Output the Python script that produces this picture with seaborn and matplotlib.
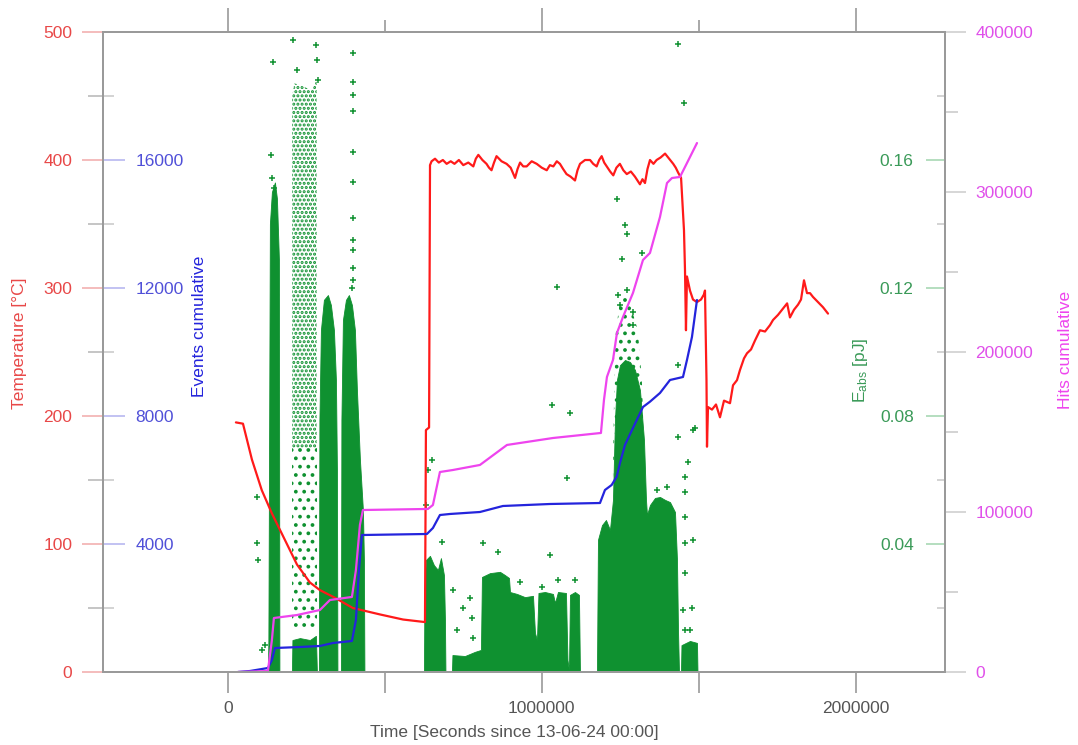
import matplotlib
matplotlib.use("Agg")
import matplotlib.pyplot as plt
import seaborn as sns
from matplotlib.ticker import MultipleLocator, FixedLocator, NullFormatter

# ---------------- data ----------------
# temperature trace [s, degC]
temp_t = [25500, 48000, 76500, 108000, 140000, 182000, 220000, 261000, 293000, 341000,
          398000, 484000, 558000, 628000, 631000, 641000, 644000,
          649000, 660000, 672000, 685000, 697000, 710000, 722000, 736000, 750000, 766000,
          782000, 790000, 798000, 811000, 824000, 832000, 840000, 848000, 856000, 872000,
          888000, 901000, 915000, 923000, 931000, 941000, 952000, 968000, 984000, 1000000,
          1016000, 1026000, 1037000, 1048000, 1058000, 1068000, 1079000, 1092000, 1106000,
          1114000, 1122000, 1138000, 1154000, 1164000, 1175000, 1183000, 1191000, 1199000,
          1207000, 1218000, 1228000, 1238000, 1249000, 1260000, 1271000, 1284000, 1297000,
          1305000, 1313000, 1321000, 1329000, 1337000, 1345000, 1356000, 1366000, 1379000,
          1393000, 1406000, 1419000, 1427000, 1435000, 1444000,
          1453300, 1456500, 1459600, 1462800, 1472400, 1482000, 1494700, 1507500, 1517000,
          1520200, 1525000, 1526600, 1529800, 1542500, 1555300, 1568000, 1580800, 1599900,
          1609500, 1622200, 1631800, 1644500, 1654100, 1666900, 1679600, 1695500, 1711500,
          1727400, 1737000, 1752900, 1768800, 1781900, 1791000, 1803800, 1816700, 1826200,
          1835700, 1845300, 1854800, 1864400, 1880300, 1896200, 1912200]
temp_c = [195, 194, 166, 142, 124, 103, 84, 70, 64, 58,
          50, 45, 41, 39, 189, 191, 396,
          399, 401, 398, 400, 397, 399, 397, 400, 396, 398,
          395, 401, 404, 400, 397, 394, 392, 398, 403, 399,
          397, 394, 386, 393, 398, 395, 395, 399, 397, 394,
          392, 396, 395, 399, 397, 393, 389, 387, 384,
          392, 397, 400, 400, 397, 395, 400, 403, 398,
          395, 391, 388, 394, 397, 392, 389, 391, 387,
          384, 381, 385, 382, 393, 400, 397, 400, 402,
          405, 401, 397, 394, 390, 386,
          345, 314, 267, 309, 298, 291, 289, 291, 295,
          298, 228, 176, 207, 205, 209, 199, 212, 210,
          224, 228, 236, 245, 249, 252, 259, 267, 266,
          271, 275, 279, 284, 288, 277, 283, 287, 291,
          306, 296, 296, 293, 289, 285, 280]

# cumulative event count
events_t = [31900, 70100, 127500, 140200, 149800, 229500, 293200, 334600, 395200, 407900,
            417500, 427100, 634200, 653300, 675600, 707500, 803100, 876400, 1026200, 1185600,
            1201500, 1222800, 1238800, 1249300, 1265200, 1290700, 1322600, 1344900, 1376800,
            1408700, 1450100, 1462800, 1478700, 1494700]
events_n = [0, 31, 125, 375, 750, 781, 813, 906, 969, 1625,
            3188, 4281, 4313, 4500, 4906, 4938, 5000, 5188, 5250, 5281,
            5688, 5844, 6103, 6531, 7094, 7625, 8281, 8447, 8719,
            9125, 9219, 9750, 10469, 11625]

# cumulative hit count
hits_t = [31900, 127500, 140200, 146600, 219900, 293200, 325100, 395200, 407900, 420700,
          430200, 637400, 653300, 675600, 717000, 803100, 889200, 1035800, 1188700, 1198300,
          1207800, 1227000, 1239700, 1258900, 1290700, 1322600, 1344900, 1376800, 1399100,
          1415000, 1440500, 1462800, 1494700]
hits_n = [0, 625, 20000, 33750, 35600, 38750, 45000, 46900, 63750, 91900,
          101250, 101900, 104400, 125000, 126250, 129400, 141900, 146250, 149400, 170000,
          184400, 195000, 211900, 221900, 236900, 257500, 261900, 284400, 305600,
          308750, 309400, 318100, 330600]

# upper envelopes of the densely populated hit bursts (absolute energy, pJ)
burst_a_t = [127500, 129000, 133800, 140200, 149800, 156200, 162500, 164100]
burst_a_e = [0, 0.010, 0.140, 0.150, 0.153, 0.148, 0.129, 0]
burst_b_t = [204000, 205600, 229500, 261300, 280400, 283600]
burst_b_e = [0, 0.0100, 0.0106, 0.0100, 0.0113, 0]
burst_c_t = [290000, 291600, 296400, 305900, 318700, 328200, 337800, 344200, 347400, 349000]
burst_c_e = [0, 0.0788, 0.1069, 0.1163, 0.1178, 0.1147, 0.1069, 0.0913, 0.0631, 0]
burst_d_t = [360100, 361700, 366500, 376100, 385600, 395200, 404700, 411100, 420700, 430200,
             433400, 435000]
burst_d_e = [0, 0.0788, 0.110, 0.1163, 0.1178, 0.1147, 0.1069, 0.0881, 0.0663, 0.0506,
             0.035, 0]
burst_e_t = [624700, 626300, 631000, 643800, 656500, 669300, 678800, 688400, 691600, 693200]
burst_e_e = [0, 0.0256, 0.035, 0.0363, 0.0334, 0.0319, 0.0356, 0.0303, 0.0163, 0]
burst_f_t = [713900, 715500, 755300, 787200, 806300, 809500, 835000, 866900, 882800, 895600,
             898800, 921100, 946600, 972100, 978500, 984800, 989600, 1010300, 1035800,
             1042200, 1051700, 1077200, 1082000, 1086800, 1090000, 1105900, 1118600, 1121800]
burst_f_e = [0, 0.0053, 0.0050, 0.0063, 0.0069, 0.0297, 0.0309, 0.0313, 0.0303, 0.0294,
             0.0250, 0.0244, 0.0234, 0.0238, 0.0122, 0.0100, 0.0247, 0.0250, 0.0244,
             0.0216, 0.0250, 0.0247, 0.0038, 0.0006, 0.0241, 0.0250, 0.0241, 0]
burst_h_t = [1176000, 1179200, 1192000, 1204700, 1217400, 1227000, 1233400, 1239700, 1249300,
             1265200, 1281200, 1297100, 1313000, 1325800, 1332200, 1335400, 1344900, 1360900,
             1376800, 1392700, 1408700, 1424600, 1431000, 1434200, 1437400]
burst_h_e = [0, 0.0413, 0.0459, 0.0475, 0.0444, 0.0538, 0.0788, 0.0913, 0.0959,
             0.0975, 0.0969, 0.0944, 0.0881, 0.0725, 0.0538, 0.0491, 0.0522, 0.0544,
             0.0547, 0.0538, 0.0531, 0.050, 0.035, 0.0131, 0]
burst_j_t = [1443700, 1445300, 1472400, 1494700, 1496300]
burst_j_e = [0, 0.0084, 0.0097, 0.0091, 0]

# loosely populated regions: time, lower and upper energy bound
cloud_b_t = [205000, 212000, 240000, 262000, 270000, 283000]
cloud_b_lo = [0.070, 0.070, 0.070, 0.070, 0.070, 0.070]
cloud_b_hi = [0.180, 0.184, 0.183, 0.182, 0.182, 0.186]
cloud_b_low_t = [205000, 230000, 262000, 283000]
cloud_b_low_lo = [0.014, 0.014, 0.014, 0.014]
cloud_b_low_hi = [0.070, 0.070, 0.070, 0.070]
cloud_h_t = [1227000, 1233400, 1249300, 1268000, 1287000, 1306000, 1319000, 1329000]
cloud_h_lo = [0.0600, 0.0750, 0.0900, 0.0930, 0.0920, 0.0880, 0.0800, 0.0630]
cloud_h_hi = [0.0630, 0.1038, 0.1163, 0.1194, 0.1131, 0.1069, 0.0913, 0.0630]

# isolated hits
iso_t = [92400, 92400, 95600, 108400, 117900, 137000, 143400, 140200, 146600, 207200,
         219900, 280400, 283600, 286800, 398400, 398400, 398400, 398400, 398400, 398400,
         398400, 398400, 398400, 398400, 398400, 395200, 649200, 681000, 631000, 637400,
         812700, 860500, 930600, 999700, 1051700, 1105900, 717100, 771300, 749000, 776700,
         728900, 780800, 1026200, 1031600, 1090000, 1079400, 1047600, 1238800, 1265200,
         1270600, 1254700, 1318500, 1242900, 1270600, 1249300, 1290700, 1290700, 1434200,
         1453300, 1434200, 1434200, 1482000, 1466000, 1456500, 1456500, 1366200, 1398100,
         1456500, 1456500, 1482000, 1456500, 1450100, 1477800, 1456500, 1472400, 1488300]
iso_e = [0.0547, 0.0403, 0.035, 0.0069, 0.0084, 0.1616, 0.1906, 0.1544, 0.1513, 0.1975,
         0.1881, 0.1959, 0.1913, 0.185, 0.1934, 0.1844, 0.1803, 0.1753, 0.1625, 0.1531,
         0.1419, 0.135, 0.1319, 0.1263, 0.1225, 0.120, 0.0663, 0.0407, 0.0522, 0.0631,
         0.0403, 0.0376, 0.0282, 0.0267, 0.0288, 0.0288, 0.0256, 0.0231, 0.020, 0.0169,
         0.0131, 0.0106, 0.0366, 0.0834, 0.0808, 0.0605, 0.1204, 0.1478, 0.1397,
         0.1369, 0.1291, 0.131, 0.1178, 0.1194, 0.1147, 0.1125, 0.1084, 0.1963,
         0.1778, 0.0959, 0.0735, 0.0756, 0.0657, 0.061, 0.0563, 0.0569, 0.0579,
         0.0485, 0.0403, 0.0413, 0.0309, 0.0194, 0.020, 0.0131, 0.0131, 0.0763]

temp_ticks = [0, 100, 200, 300, 400, 500]
event_ticks = [4000, 8000, 12000, 16000]
energy_ticks = [0.04, 0.08, 0.12, 0.16]
hit_ticks = [0, 100000, 200000, 300000, 400000]
time_ticks = [0, 1000000, 2000000]

# ---------------- style ----------------
sns.set_theme(style="white")
plt.rcParams['font.family'] = ['Liberation Sans', 'DejaVu Sans']
plt.rcParams['mathtext.default'] = 'regular'

RED, BLUE, GREEN, MAG = '#ff1a1a', '#2424dc', '#0f9130', '#ee44ee'
RED_T, BLUE_T, GREEN_T, MAG_T = '#e84848', '#5050d8', '#3a9a58', '#e050ea'
GREY = '#9a9a9a'
plt.rcParams['hatch.color'] = GREEN
plt.rcParams['hatch.linewidth'] = 1.5
FS = 12.5

fig = plt.figure(figsize=(10.78, 7.45), dpi=100)
rect = [103 / 1078, 73 / 745, 842 / 1078, 640 / 745]
ax = fig.add_axes(rect)
ax_e = ax.twinx()
ax_ev = ax.twinx()
ax_h = ax.twinx()
ax_e.set_zorder(1)
ax.set_zorder(2)
ax_ev.set_zorder(3)
ax_h.set_zorder(4)
for a in (ax, ax_e, ax_ev, ax_h):
    a.patch.set_visible(False)
    for s in a.spines.values():
        s.set_color(GREY)
        s.set_linewidth(1.4)

# ---------------- energy of hits ----------------
for bt, be in [(burst_a_t, burst_a_e), (burst_b_t, burst_b_e), (burst_c_t, burst_c_e),
               (burst_d_t, burst_d_e), (burst_e_t, burst_e_e), (burst_f_t, burst_f_e),
               (burst_h_t, burst_h_e), (burst_j_t, burst_j_e)]:
    ax_e.fill_between(bt, 0, be, color=GREEN, lw=0.6)
for ct, lo, hi, pattern in [(cloud_b_t, cloud_b_lo, cloud_b_hi, '....'),
                            (cloud_b_low_t, cloud_b_low_lo, cloud_b_low_hi, '..'),
                            (cloud_h_t, cloud_h_lo, cloud_h_hi, '..')]:
    ax_e.fill_between(ct, lo, hi, facecolor='none', edgecolor=GREEN, hatch=pattern, lw=0)
sns.scatterplot(x=iso_t, y=iso_e, ax=ax_e, marker='+', s=22, color=GREEN, linewidth=1.1)

# ---------------- lines ----------------
sns.lineplot(x=temp_t, y=temp_c, ax=ax, color=RED, lw=1.6, sort=False, estimator=None)
sns.lineplot(x=events_t, y=events_n, ax=ax_ev, color=BLUE, lw=1.6, sort=False, estimator=None)
sns.lineplot(x=hits_t, y=hits_n, ax=ax_h, color=MAG, lw=1.6, sort=False, estimator=None)

# ---------------- axes ----------------
ax.set_xlim(-398000, 2285000)
ax.set_ylim(0, 500)
ax_e.set_ylim(0, 0.2)
ax_ev.set_ylim(0, 20000)
ax_h.set_ylim(0, 400000)
for a in (ax, ax_e, ax_ev, ax_h):
    a.set_xlabel('')
    a.set_ylabel('')

# time axis (bottom)
ax.xaxis.set_major_locator(FixedLocator(time_ticks))
ax.xaxis.set_minor_locator(MultipleLocator(500000))
ax.set_xticklabels([str(v) for v in time_ticks])
ax.tick_params(axis='x', which='both', direction='out', length=15, width=1.2, color=GREY,
               bottom=True, top=False, labelsize=FS, labelcolor='#555555', pad=6)
# time axis (top)
top = ax.secondary_xaxis('top')
top.xaxis.set_major_locator(FixedLocator(time_ticks))
top.xaxis.set_minor_locator(MultipleLocator(500000))
top.xaxis.set_major_formatter(NullFormatter())
top.tick_params(axis='x', which='major', direction='out', length=17, width=1.2, color=GREY)
top.tick_params(axis='x', which='minor', direction='out', length=9, width=1.2, color=GREY)
top.spines['top'].set_color(GREY)
top.spines['top'].set_linewidth(1.4)

# temperature (left, outside)
ax.yaxis.set_major_locator(FixedLocator(temp_ticks))
ax.yaxis.set_minor_locator(MultipleLocator(50))
ax.set_yticklabels([str(v) for v in temp_ticks])
ax.tick_params(axis='y', which='major', left=True, right=False, direction='out', length=15,
               width=1.2, color='#f2b0b0', labelsize=FS, labelcolor=RED_T, pad=7)
ax.tick_params(axis='y', which='minor', left=True, right=False, direction='out', length=11,
               width=1.2, color='#bbbbbb')

# events (left, inside)
ax_ev.yaxis.tick_left()
ax_ev.yaxis.set_major_locator(FixedLocator(event_ticks))
ax_ev.yaxis.set_minor_locator(FixedLocator([2000, 6000, 10000, 14000, 18000]))
ax_ev.set_yticklabels([str(v) for v in event_ticks])
ax_ev.tick_params(axis='y', which='major', direction='in', length=16, width=1.2,
                  color='#b8b8f0', labelsize=FS, labelcolor=BLUE_T, pad=-23.5)
ax_ev.tick_params(axis='y', which='minor', direction='in', length=8, width=1.2, color='#cccccc')
for lbl in ax_ev.get_yticklabels():
    lbl.set_horizontalalignment('left')

# energy (right, inside)
ax_e.yaxis.tick_right()
ax_e.yaxis.set_major_locator(FixedLocator(energy_ticks))
ax_e.yaxis.set_minor_locator(FixedLocator([0.02, 0.06, 0.10, 0.14, 0.18]))
ax_e.set_yticklabels([f'{v:.2f}' for v in energy_ticks])
ax_e.tick_params(axis='y', which='major', direction='in', length=14, width=1.2,
                 color='#a8d8b4', labelsize=FS, labelcolor=GREEN_T, pad=-22.5)
ax_e.tick_params(axis='y', which='minor', direction='in', length=6, width=1.2, color='#cccccc')
for lbl in ax_e.get_yticklabels():
    lbl.set_horizontalalignment('right')

# hits (right, outside)
ax_h.yaxis.set_major_locator(FixedLocator(hit_ticks))
ax_h.yaxis.set_minor_locator(MultipleLocator(50000))
ax_h.set_yticklabels([str(v) for v in hit_ticks])
ax_h.tick_params(axis='y', which='major', direction='out', length=15, width=1.2,
                 color='#cfcfcf', labelsize=FS, labelcolor=MAG_T, pad=7)
ax_h.tick_params(axis='y', which='minor', direction='out', length=9, width=1.2, color='#cccccc')

# ---------------- axis titles ----------------
fig.text(514 / 1078, 1 - 733 / 745, 'Time [Seconds since 13-06-24 00:00]', ha='center',
         va='center', fontsize=FS, color='#555555')
fig.text(20 / 1078, 1 - 343 / 745, 'Temperature [°C]', rotation=90, ha='center',
         va='center', fontsize=FS, color=RED_T)
fig.text(200 / 1078, 1 - 326 / 745, 'Events cumulative', rotation=90, ha='center',
         va='center', fontsize=FS, color=BLUE)
fig.text(860 / 1078, 1 - 370 / 745, 'E$_{abs}$ [pJ]', rotation=90, ha='center',
         va='center', fontsize=FS, color=GREEN_T)
fig.text(1066 / 1078, 1 - 350 / 745, 'Hits cumulative', rotation=90, ha='center',
         va='center', fontsize=FS, color=MAG)

fig.savefig('out.png', dpi=100, facecolor='white')
